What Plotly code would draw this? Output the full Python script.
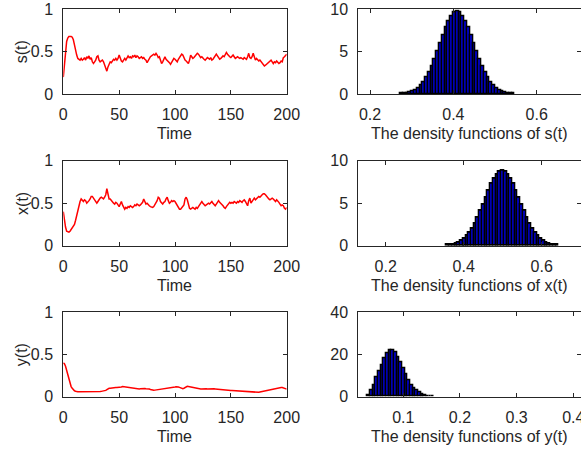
import numpy as np
import plotly.graph_objects as go

# ---------------- data ----------------
time = list(range(0, 201))

s_t = [0.20,0.35,0.52,0.62,0.66,0.68,0.68,0.68,0.67,0.64,0.58,0.51,0.46,0.42,0.41,
       0.40,0.42,0.40,0.41,0.43,0.40,0.44,0.42,0.45,0.41,0.43,0.38,0.36,0.38,0.40,
       0.44,0.45,0.40,0.38,0.39,0.40,0.38,0.34,0.30,0.27,0.32,0.36,0.38,0.37,0.40,
       0.41,0.40,0.42,0.40,0.42,0.46,0.41,0.39,0.38,0.41,0.42,0.40,0.43,0.45,0.43,
       0.44,0.42,0.45,0.44,0.46,0.43,0.45,0.44,0.42,0.43,0.44,0.42,0.43,0.41,0.40,
       0.37,0.40,0.43,0.44,0.45,0.46,0.47,0.46,0.48,0.46,0.43,0.44,0.40,0.36,0.38,
       0.42,0.44,0.41,0.40,0.38,0.37,0.35,0.38,0.40,0.42,0.41,0.39,0.38,0.41,0.43,
       0.46,0.47,0.46,0.42,0.40,0.39,0.37,0.36,0.40,0.46,0.44,0.42,0.43,0.45,0.46,
       0.48,0.47,0.44,0.43,0.44,0.42,0.41,0.40,0.42,0.43,0.42,0.41,0.43,0.40,0.41,
       0.43,0.44,0.47,0.45,0.42,0.41,0.42,0.43,0.45,0.44,0.46,0.49,0.47,0.45,0.44,
       0.43,0.45,0.46,0.44,0.42,0.43,0.44,0.43,0.42,0.43,0.42,0.41,0.43,0.42,0.41,
       0.44,0.48,0.43,0.42,0.44,0.48,0.44,0.40,0.42,0.40,0.39,0.40,0.38,0.36,0.34,
       0.33,0.34,0.35,0.36,0.37,0.39,0.40,0.38,0.36,0.38,0.37,0.39,0.38,0.36,0.37,
       0.39,0.38,0.43,0.44,0.46,0.47]

x_t = [0.40,0.30,0.22,0.17,0.16,0.16,0.17,0.19,0.21,0.23,0.25,0.30,0.36,0.42,0.48,
       0.52,0.55,0.53,0.52,0.54,0.53,0.50,0.51,0.53,0.55,0.58,0.58,0.56,0.53,0.51,
       0.50,0.52,0.55,0.56,0.57,0.56,0.55,0.57,0.60,0.67,0.60,0.55,0.55,0.53,0.51,
       0.50,0.49,0.51,0.50,0.48,0.46,0.49,0.52,0.48,0.45,0.43,0.45,0.44,0.46,0.45,
       0.47,0.46,0.45,0.46,0.48,0.47,0.49,0.48,0.47,0.48,0.50,0.51,0.55,0.52,0.49,
       0.50,0.48,0.47,0.46,0.45,0.45,0.46,0.48,0.50,0.53,0.57,0.56,0.52,0.50,0.49,
       0.51,0.52,0.55,0.57,0.53,0.50,0.51,0.53,0.52,0.53,0.52,0.50,0.48,0.46,0.43,
       0.43,0.45,0.46,0.48,0.55,0.57,0.54,0.50,0.44,0.43,0.44,0.45,0.44,0.43,0.45,
       0.44,0.46,0.48,0.50,0.52,0.50,0.48,0.47,0.48,0.49,0.50,0.49,0.51,0.52,0.50,
       0.48,0.47,0.49,0.52,0.53,0.51,0.50,0.49,0.47,0.45,0.44,0.46,0.48,0.50,0.51,
       0.50,0.51,0.50,0.52,0.51,0.50,0.52,0.51,0.53,0.52,0.51,0.53,0.54,0.52,0.49,
       0.47,0.53,0.56,0.50,0.52,0.55,0.56,0.54,0.55,0.57,0.58,0.57,0.59,0.60,0.61,
       0.61,0.60,0.58,0.57,0.55,0.54,0.55,0.56,0.55,0.53,0.52,0.54,0.53,0.51,0.49,
       0.47,0.48,0.47,0.44,0.43,0.45]

y_t = [0.40,0.39,0.36,0.31,0.26,0.21,0.16,0.12,0.10,0.08,0.07,0.065,0.06,0.06,0.06,
       0.06,0.06,0.06,0.06,0.06,0.058,0.056,0.055,0.054,0.055,0.056,0.058,0.06,0.058,0.055,
       0.056,0.058,0.06,0.062,0.063,0.065,0.068,0.07,0.075,0.085,0.095,0.10,0.10,0.10,0.105,
       0.105,0.105,0.108,0.11,0.11,0.108,0.11,0.115,0.12,0.118,0.115,0.112,0.11,0.108,0.105,
       0.10,0.10,0.098,0.096,0.094,0.092,0.09,0.09,0.092,0.095,0.098,0.10,0.10,0.098,0.095,
       0.095,0.093,0.09,0.085,0.08,0.078,0.076,0.078,0.08,0.082,0.08,0.078,0.08,0.085,0.09,
       0.092,0.095,0.097,0.10,0.10,0.102,0.105,0.108,0.11,0.113,0.115,0.118,0.12,0.115,0.11,
       0.105,0.10,0.095,0.10,0.11,0.118,0.122,0.12,0.117,0.113,0.108,0.103,0.10,0.097,0.095,
       0.093,0.092,0.09,0.09,0.092,0.094,0.095,0.094,0.093,0.092,0.093,0.095,0.097,0.096,0.094,
       0.093,0.092,0.09,0.09,0.091,0.092,0.09,0.088,0.085,0.083,0.082,0.08,0.078,0.076,0.075,
       0.074,0.073,0.072,0.071,0.07,0.07,0.069,0.068,0.067,0.066,0.065,0.064,0.063,0.062,0.06,
       0.058,0.056,0.055,0.054,0.053,0.052,0.05,0.05,0.049,0.05,0.052,0.055,0.058,0.062,0.068,
       0.072,0.075,0.078,0.08,0.082,0.085,0.088,0.09,0.092,0.095,0.098,0.10,0.103,0.106,0.108,
       0.11,0.108,0.104,0.10,0.095,0.09]

# histogram (density) bars: first bin centre, bin width, bar heights
s_bin_start, s_bin_width = 0.276, 0.0067
s_density = [0.05,0.08,0.13,0.21,0.32,0.48,0.71,1.02,1.42,1.93,2.55,3.30,4.13,5.04,6.00,
             6.94,7.83,8.60,9.20,9.60,9.78,9.62,9.22,8.60,7.83,6.94,6.00,5.04,4.13,3.30,
             2.55,1.93,1.42,1.02,0.71,0.48,0.32,0.21,0.13,0.08,0.05]

x_bin_start, x_bin_width = 0.360, 0.0070
x_density = [0.07,0.11,0.17,0.27,0.40,0.58,0.82,1.14,1.54,2.03,2.62,3.30,4.06,4.87,5.69,
             6.50,7.25,7.89,8.38,8.72,8.88,8.72,8.38,7.89,7.25,6.50,5.69,4.87,4.06,3.30,
             2.62,2.03,1.54,1.14,0.82,0.58,0.40,0.27,0.17,0.11,0.07]

y_bin_start, y_bin_width = 0.0395, 0.0047
y_density = [0.5,3.0,5.5,9.0,12.0,15.0,18.0,20.5,22.0,22.2,21.0,18.8,16.2,13.4,10.7,
             7.9,5.6,4.0,2.8,1.9,1.2,0.7,0.35,0.15,0.06]

# axis ticks
time_ticks = [0, 50, 100, 150, 200]
series_yticks = [0, 0.5, 1]
s_hist_xticks = [0.2, 0.4, 0.6]
x_hist_xticks = [0.2, 0.4, 0.6]
y_hist_xticks = [0.1, 0.2, 0.3, 0.4]
s_hist_yticks = [0, 5, 10]
x_hist_yticks = [0, 5, 10]
y_hist_yticks = [0, 20, 40]

series_labels = ["s(t)", "x(t)", "y(t)"]
hist_titles = ["The density functions of s(t)", "The density functions of x(t)",
               "The density functions of y(t)"]

# ---------------- figure ----------------
W, H = 581, 450
FONT = "Liberation Sans, Arial, Helvetica, sans-serif"
AXC = "#262626"
FS = 16

left_dom = [63.3 / W, 286.7 / W]
right_dom = [358.3 / W, 1.0]
rows_px = [(9.3, 94.0), (160.7, 245.7), (312.3, 396.7)]
row_doms = [[1 - b / H, 1 - t / H] for t, b in rows_px]

fig = go.Figure()

series = [s_t, x_t, y_t]
dens = [(s_bin_start, s_bin_width, s_density),
        (x_bin_start, x_bin_width, x_density),
        (y_bin_start, y_bin_width, y_density)]
hist_xranges = [[0.1719, 0.7063], [0.1297, 0.7007], [0.0205, 0.4136]]
hist_xticks = [s_hist_xticks, x_hist_xticks, y_hist_xticks]
hist_yticks = [s_hist_yticks, x_hist_yticks, y_hist_yticks]
hist_yranges = [[0, 10], [0, 10], [0, 40]]

def axis_style(**kw):
    d = dict(showline=True, linecolor=AXC, linewidth=1, mirror="allticks",
             ticks="inside", ticklen=4, tickwidth=1, tickcolor=AXC,
             showgrid=False, zeroline=False, automargin=False,
             ticklabeloverflow="allow",
             tickfont=dict(family=FONT, size=FS, color=AXC))
    d.update(kw)
    return d

layout = {}
annotations = []
for r in range(3):
    li = 2 * r + 1
    ri = 2 * r + 2
    lname = "" if li == 1 else str(li)
    rname = str(ri)
    # time series
    fig.add_trace(go.Scatter(x=time, y=series[r], mode="lines",
                             line=dict(color="#ff0000", width=1.5),
                             xaxis="x" + lname, yaxis="y" + lname,
                             showlegend=False))
    # histogram
    start, width, h = dens[r]
    centers = start + width * np.arange(len(h))
    fig.add_trace(go.Bar(x=centers, y=h, width=width,
                         marker=dict(color="#0000ff",
                                     line=dict(color="#000000", width=1.6)),
                         xaxis="x" + rname, yaxis="y" + rname,
                         showlegend=False))
    layout["xaxis" + lname] = axis_style(domain=left_dom, anchor="y" + lname,
                                         range=[0, 200], tickvals=time_ticks,
                                         ticklabelstandoff=6)
    layout["yaxis" + lname] = axis_style(domain=row_doms[r], anchor="x" + lname,
                                         range=[0, 1], tickvals=series_yticks,
                                         ticktext=["0", "0.5", "1"],
                                         ticklabelstandoff=6)
    layout["xaxis" + rname] = axis_style(domain=right_dom, anchor="y" + rname,
                                         range=hist_xranges[r],
                                         tickvals=hist_xticks[r],
                                         ticklabelstandoff=6)
    layout["yaxis" + rname] = axis_style(domain=row_doms[r], anchor="x" + rname,
                                         range=hist_yranges[r],
                                         tickvals=hist_yticks[r],
                                         ticklabelstandoff=6)
    t_px, b_px = rows_px[r]
    ylab = 1 - (b_px + 40) / H
    annotations.append(dict(text="Time", x=sum(left_dom) / 2, y=ylab,
                            xref="paper", yref="paper", showarrow=False,
                            xanchor="center", yanchor="middle",
                            font=dict(family=FONT, size=FS, color=AXC)))
    annotations.append(dict(text=hist_titles[r], x=sum(right_dom) / 2, y=ylab,
                            xref="paper", yref="paper", showarrow=False,
                            xanchor="center", yanchor="middle",
                            font=dict(family=FONT, size=FS, color=AXC)))
    annotations.append(dict(text=series_labels[r], x=21.7 / W,
                            y=1 - (t_px + b_px) / 2 / H,
                            xref="paper", yref="paper", showarrow=False,
                            textangle=-90, xanchor="center", yanchor="middle",
                            font=dict(family=FONT, size=FS, color=AXC)))

fig.update_layout(width=W, height=H,
                  margin=dict(l=0, r=0, t=0, b=0, pad=0, autoexpand=False),
                  paper_bgcolor="white", plot_bgcolor="white",
                  bargap=0, annotations=annotations, **layout)

fig.write_html("out.html",
               config={"displayModeBar": False},
               post_script="document.body.style.margin='0';"
                           "document.body.style.padding='0';"
                           "document.body.style.overflow='hidden';")
